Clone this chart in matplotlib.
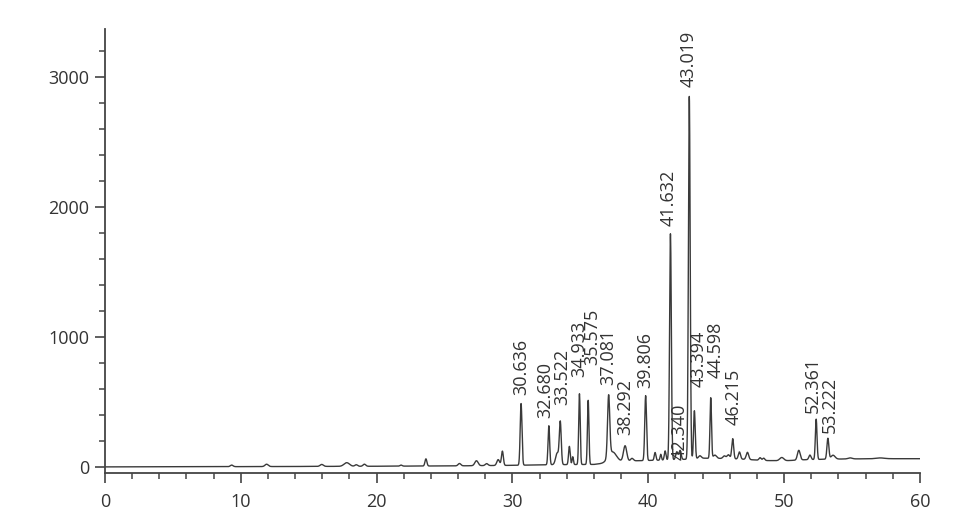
import numpy as np
import matplotlib.pyplot as plt
from matplotlib.ticker import MultipleLocator

plt.rcParams['font.family'] = ['Open Sans', 'DejaVu Sans']

# baseline drift of the chromatogram (retention time in min, signal)
base_t = [0, 10, 20, 26, 30, 33, 36, 37.5, 39, 41, 42.5, 44, 45.5, 47, 48.5, 50, 51.5, 53, 54.5, 57, 60]
base_v = [3, 5, 8, 11, 15, 20, 22, 40, 50, 55, 60, 70, 68, 62, 52, 50, 58, 62, 64, 66, 66]

# peak table: retention time, height above baseline, peak sigma
peak_rt = [9.33, 11.9, 15.96, 17.8, 18.5, 19.1, 21.8, 23.63, 26.1, 27.35,
           28.1, 28.95, 29.26, 30.636, 32.680, 33.3, 33.522, 34.19, 34.44, 34.933,
           35.575, 37.081, 37.35, 38.292, 38.8, 39.806, 40.5, 40.92, 41.24, 41.632,
           42.1, 42.340, 43.019, 43.394, 43.8, 44.598, 44.9, 45.6, 45.9, 46.215,
           46.71, 47.3, 48.23, 48.5, 49.83, 51.08, 51.9, 52.361, 53.222, 53.6,
           54.86, 57.07]
peak_height = [12, 18, 15, 28, 12, 16, 8, 55, 18, 38,
               15, 45, 110, 475, 300, 90, 320, 140, 60, 545,
               495, 470, 80, 120, 20, 500, 60, 45, 70, 1740,
               60, 70, 2790, 370, 20, 465, 25, 20, 30, 155,
               55, 55, 20, 18, 25, 75, 35, 310, 160, 30,
               8, 6]
peak_sigma = [0.1, 0.12, 0.12, 0.2, 0.1, 0.1, 0.08, 0.07, 0.1, 0.12,
              0.1, 0.1, 0.07, 0.065, 0.06, 0.12, 0.07, 0.06, 0.05, 0.055,
              0.055, 0.08, 0.3, 0.12, 0.1, 0.065, 0.06, 0.05, 0.06, 0.065,
              0.08, 0.08, 0.065, 0.06, 0.1, 0.055, 0.12, 0.1, 0.1, 0.07,
              0.08, 0.09, 0.08, 0.08, 0.15, 0.1, 0.08, 0.06, 0.07, 0.15,
              0.15, 0.3]

# labelled peaks and where their labels sit (x, bottom y)
label_text = ['30.636', '32.680', '33.522', '34.933', '35.575', '37.081', '38.292',
              '39.806', '41.632', '42.340', '43.019', '43.394', '44.598', '46.215',
              '52.361', '53.222']
label_x = [30.68, 32.45, 33.63, 34.9, 35.9, 37.06, 38.34, 39.81, 41.48, 42.29,
           42.96, 43.69, 44.95, 46.27, 52.11, 53.34]
label_y = [556, 377, 479, 697, 790, 633, 248, 608, 1855, 56, 2923, 620, 684, 325, 415, 261]

t = np.linspace(0, 60, 6001)
signal = np.interp(t, base_t, base_v)
for rt, h, s in zip(peak_rt, peak_height, peak_sigma):
    signal += h * np.exp(-0.5 * ((t - rt) / s) ** 2)

fig = plt.figure(figsize=(9.7, 5.18), dpi=100)
ax = fig.add_axes([0.1082, 0.0875, 0.8402, 0.8565])
ax.plot(t, signal, color='#3a3a3a', lw=1.0)

for s, x, y in zip(label_text, label_x, label_y):
    ax.text(x, y, s, rotation=90, ha='center', va='bottom', fontsize=13, color='#333333')

ax.set_xlim(0, 60)
ax.set_ylim(-41.5, 3372)
ax.spines['top'].set_visible(False)
ax.spines['right'].set_visible(False)
for sp in ('left', 'bottom'):
    ax.spines[sp].set_color('#444444')
    ax.spines[sp].set_linewidth(1.3)

ax.xaxis.set_major_locator(MultipleLocator(10))
ax.xaxis.set_minor_locator(MultipleLocator(2))
ax.yaxis.set_major_locator(MultipleLocator(1000))
ax.yaxis.set_minor_locator(MultipleLocator(200))
ax.tick_params(axis='both', which='major', length=7.5, width=1.2, color='#444444',
               labelsize=13, labelcolor='#333333', pad=4)
ax.tick_params(axis='x', which='major', pad=7)
ax.tick_params(axis='both', which='minor', length=4, width=1.1, color='#444444')

fig.savefig('out.png', dpi=100)
